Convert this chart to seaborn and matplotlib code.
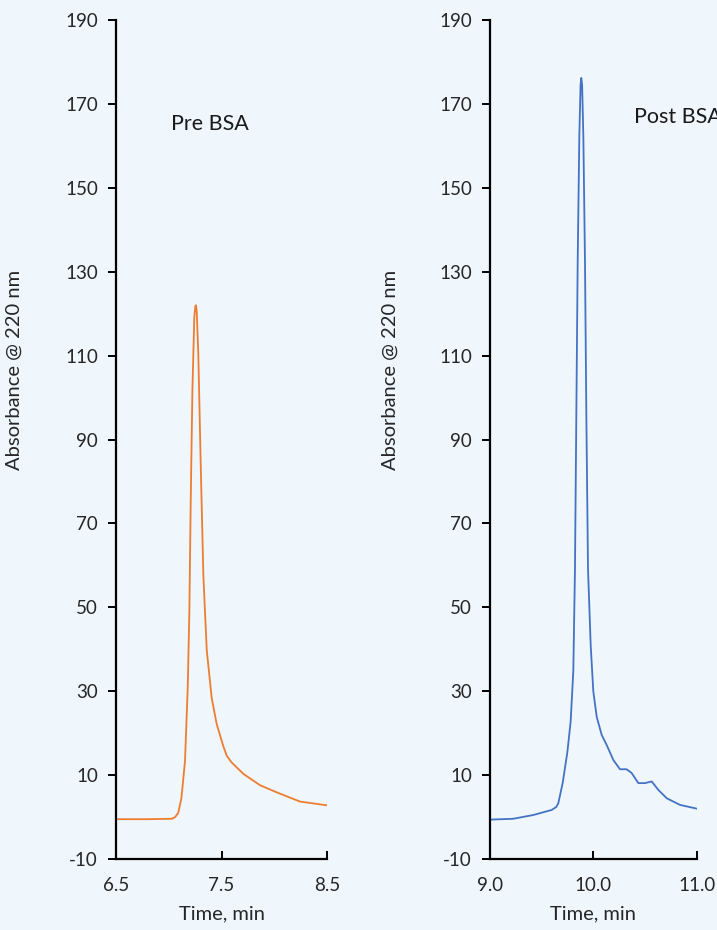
import numpy as np
import pandas as pd
import matplotlib
matplotlib.use("Agg")
import matplotlib.pyplot as plt
import seaborn as sns

sns.set_style("ticks")
plt.rcParams['font.family'] = ['Lato', 'DejaVu Sans']
plt.rcParams['axes.unicode_minus'] = False

# pre BSA chromatogram (time in min, absorbance @ 220 nm)
pre_time = [6.50, 6.80, 7.03, 7.06, 7.09, 7.12, 7.154, 7.18, 7.195, 7.208, 7.224, 7.242,
            7.252, 7.258, 7.265, 7.28, 7.303, 7.328, 7.36, 7.407, 7.454, 7.517, 7.55,
            7.597, 7.707, 7.865, 8.023, 8.244, 8.50]
pre_abs = [-0.5, -0.5, -0.4, 0.0, 1.0, 4.5, 13.4, 31.0, 48.6, 75.1, 101.6, 119.2,
           121.8, 122.0, 120.5, 110.4, 83.9, 57.5, 39.8, 28.4, 22.2, 16.9, 14.6,
           13.0, 10.3, 7.6, 5.9, 3.7, 2.8]

# post BSA chromatogram
post_time = [9.00, 9.225, 9.419, 9.596, 9.64, 9.66, 9.702, 9.747, 9.779, 9.805, 9.821,
             9.834, 9.847, 9.863, 9.875, 9.882, 9.89, 9.902, 9.918, 9.931, 9.947, 9.973,
             9.998, 10.031, 10.079, 10.127, 10.192, 10.256, 10.32, 10.369, 10.433,
             10.498, 10.562, 10.626, 10.707, 10.836, 11.00]
post_abs = [-0.6, -0.4, 0.5, 1.7, 2.4, 3.3, 8.1, 15.4, 22.7, 34.8, 59.1,
            95.5, 131.9, 162.2, 174.5, 176.2, 174.5, 162.2, 131.9, 95.5, 59.1, 40.9,
            30.0, 23.9, 19.6, 17.2, 13.6, 11.4, 11.4, 10.5, 8.1,
            8.1, 8.5, 6.5, 4.5, 2.9, 2.0]

y_ticks = list(range(-10, 191, 20))

pre = pd.DataFrame({'time': pre_time, 'abs': pre_abs})
post = pd.DataFrame({'time': post_time, 'abs': post_abs})

bg = '#eff6fc'
fig = plt.figure(figsize=(7.17, 9.30), dpi=100, facecolor=bg)
ax1 = fig.add_axes([0.1618, 0.0763, 0.2943, 0.9022])
ax2 = fig.add_axes([0.6834, 0.0763, 0.2887, 0.9022])

panels = [
    (ax1, pre, '#ed7d31', [6.5, 7.5, 8.5], ['6.5', '7.5', '8.5'], 'Pre BSA', (7.02, 165.3)),
    (ax2, post, '#4472c4', [9.0, 10.0, 11.0], ['9.0', '10.0', '11.0'], 'Post BSA', (10.39, 166.8)),
]

for ax, df, col, xt, xtl, name, pos in panels:
    ax.set_facecolor(bg)
    sns.lineplot(data=df, x='time', y='abs', ax=ax, color=col, linewidth=1.3)
    ax.set_xlim(xt[0], xt[-1])
    ax.set_ylim(-10, 190)
    ax.set_xticks(xt)
    ax.set_xticklabels(xtl)
    ax.set_yticks(y_ticks)
    for s in ['top', 'right']:
        ax.spines[s].set_visible(False)
    for s in ['left', 'bottom']:
        ax.spines[s].set_linewidth(1.6)
        ax.spines[s].set_color('black')
    ax.tick_params(axis='y', direction='out', length=6, width=1.4, labelsize=13.5,
                   pad=7, colors='black', labelcolor='#262626')
    ax.tick_params(axis='x', direction='in', length=6, width=1.4, labelsize=13.5,
                   pad=13, colors='black', labelcolor='#262626')
    ax.set_xlabel('Time, min', fontsize=14.5, color='#262626')
    ax.set_ylabel('Absorbance @ 220 nm', fontsize=14.5, color='#262626')
    ax.xaxis.set_label_coords(0.5, -0.055)
    ax.yaxis.set_label_coords(-0.44, 0.583)
    ax.text(pos[0], pos[1], name, fontsize=15.5, color='#1a1a1a', va='center', ha='left',
            clip_on=False)

fig.savefig('out.png', dpi=100, facecolor=bg)
